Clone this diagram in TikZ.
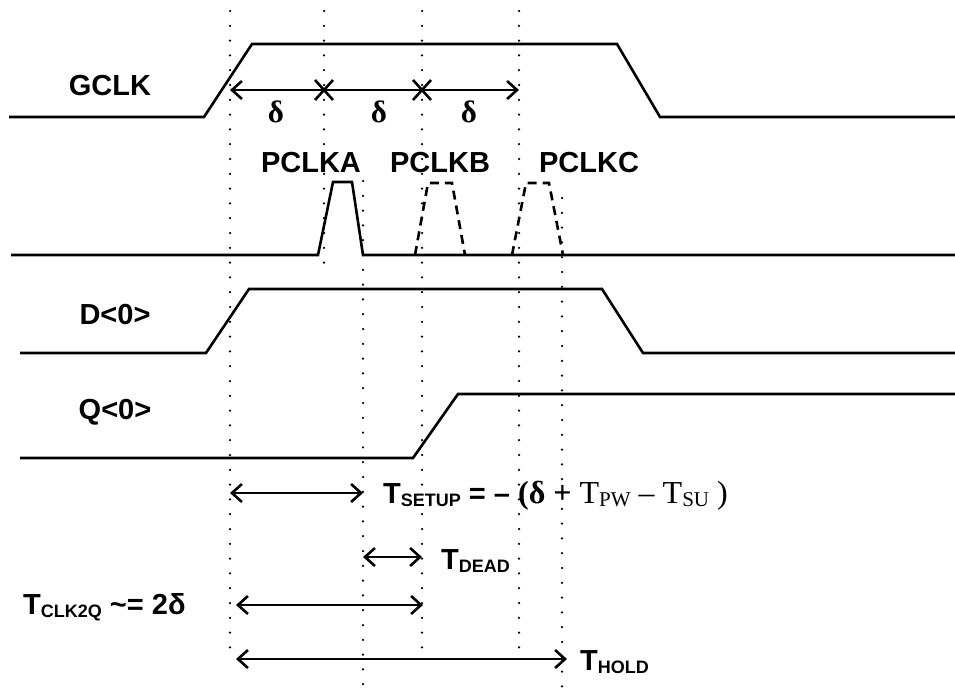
\documentclass[tikz,border=0pt]{standalone}
\usepackage{fontspec}
\setmainfont{Liberation Sans}
\newfontfamily\tmsfont{Liberation Serif}
\usetikzlibrary{arrows.meta}
\tikzset{
  sig/.style={line width=2.6pt},
  dashsig/.style={line width=2.6pt, dash pattern=on 9pt off 6pt},
  guide/.style={line width=2.5pt, line cap=round, dash pattern=on 0pt off 14.8pt},
  span/.style={line width=2.6pt, {Straight Barb[length=10pt,width=18pt]}-{Straight Barb[length=10pt,width=18pt]}},
  lbl/.style={inner sep=0pt, font=\fontsize{29}{32}\selectfont\bfseries},
  dlt/.style={inner sep=0pt, font=\fontsize{31}{33}\selectfont\tmsfont\bfseries},
}
\newcommand\lo[1]{\raisebox{-3pt}{\fontsize{18}{20}\selectfont #1}}
\newcommand\tlo[1]{\raisebox{-3pt}{\fontsize{21}{23}\selectfont #1}}

\begin{document}
\begin{tikzpicture}[x=1pt,y=-1pt]
  \useasboundingbox (0,0) rectangle (955,690);

  \draw[guide] (230,11) -- (230,650);
  \draw[guide] (324,11) -- (324,275);
  \draw[guide] (422,11) -- (422,648);
  \draw[guide] (519,11) -- (519,648);
  \draw[guide] (363,181) -- (363,690);
  \draw[guide] (562,198) -- (562,690);

  \draw[sig] (9,117) -- (204,117) -- (252,44) -- (617,44) -- (660,117) -- (955,117);
  \draw[sig] (11,255) -- (318,255) -- (333,182) -- (352,182) -- (363,255) -- (955,255);
  \draw[dashsig] (415,255) -- (428,183) -- (452,183) -- (465,255);
  \draw[dashsig] (512,255) -- (526,183) -- (549,183) -- (563,255);
  \draw[sig] (20,353) -- (206,353) -- (249,289) -- (602,289) -- (643,353) -- (955,353);
  \draw[sig] (20,458) -- (413,458) -- (458,394) -- (955,394);

  \node[lbl] (gclk) at (110,86) {GCLK};
  \node[lbl] (pclka) at (311,163) {PCLKA};
  \node[lbl] (pclkb) at (440,163) {PCLKB};
  \node[lbl] (pclkc) at (589,163) {PCLKC};
  \node[lbl] (d0) at (115,315) {D<0>};
  \node[lbl] (q0) at (115,412) {Q<0>};

  \coordinate (g0) at (230,90);
  \coordinate (g1) at (324,90);
  \coordinate (g2) at (422,90);
  \coordinate (g3) at (519,90);
  \draw[span] (g0) -- (g3);
  \foreach \c in {g1,g2}
    \draw[line width=2.6pt] ([shift={(-9,-10)}]\c) -- ([shift={(9,10)}]\c)
                            ([shift={(-9,10)}]\c) -- ([shift={(9,-10)}]\c);
  \node[dlt] (d1) at (276,112) {δ};
  \node[dlt] (d2) at (379,112) {δ};
  \node[dlt] (d3) at (469,112) {δ};

  \coordinate (su0) at (230,493);
  \coordinate (su1) at (363,493);
  \coordinate (de0) at (363,557);
  \coordinate (de1) at (422,557);
  \coordinate (cq0) at (236,605);
  \coordinate (cq1) at (423,605);
  \coordinate (ho0) at (236,659);
  \coordinate (ho1) at (567,659);
  \draw[span] (su0) -- (su1);
  \draw[span] (de0) -- (de1);
  \draw[span] (cq0) -- (cq1);
  \draw[span] (ho0) -- (ho1);

  \node[lbl, anchor=base west] (tsetup) at (383,503)
    {T\lo{SETUP} = – {\tmsfont\fontsize{32}{34}\selectfont(δ + \mdseries T\tlo{PW} – T\tlo{SU} )}};
  \node[lbl, anchor=base west] (tdead) at (441,569) {T\lo{DEAD}};
  \node[lbl, anchor=base west] (tclk) at (23,614) {T\lo{CLK2Q} \textasciitilde= 2δ};
  \node[lbl, anchor=base west] (thold) at (580,670) {T\lo{HOLD}};
\end{tikzpicture}
\end{document}
